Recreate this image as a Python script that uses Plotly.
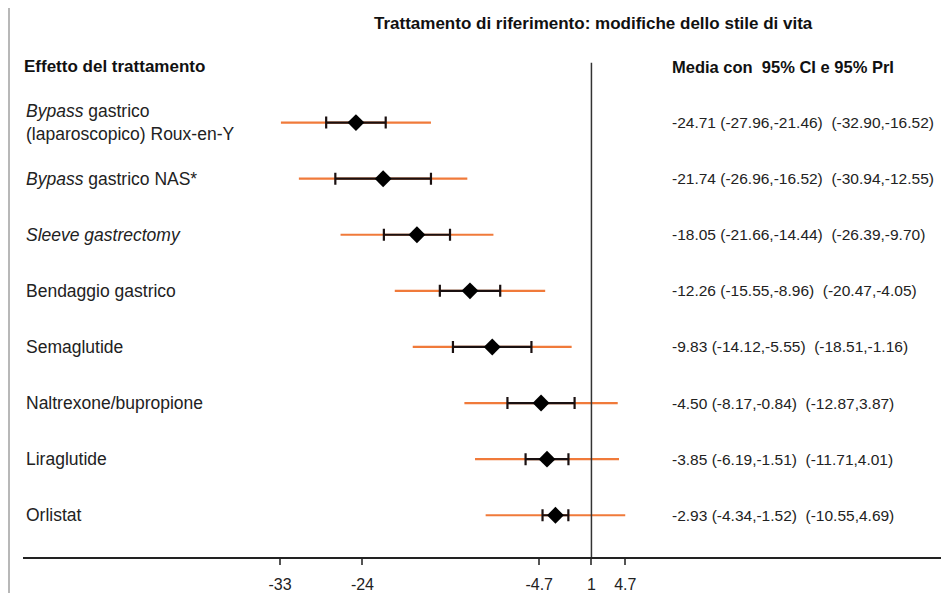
import plotly.graph_objects as go

# ---- data ----
treatments = [
    "<i>Bypass</i> gastrico<br>(laparoscopico) Roux-en-Y",
    "<i>Bypass</i> gastrico NAS*",
    "<i>Sleeve gastrectomy</i>",
    "Bendaggio gastrico",
    "Semaglutide",
    "Naltrexone/bupropione",
    "Liraglutide",
    "Orlistat",
]
mean = [-24.71, -21.74, -18.05, -12.26, -9.83, -4.50, -3.85, -2.93]
ci_lo = [-27.96, -26.96, -21.66, -15.55, -14.12, -8.17, -6.19, -4.34]
ci_hi = [-21.46, -16.52, -14.44, -8.96, -5.55, -0.84, -1.51, -1.52]
pi_lo = [-32.90, -30.94, -26.39, -20.47, -18.51, -12.87, -11.71, -10.55]
pi_hi = [-16.52, -12.55, -9.70, -4.05, -1.16, 3.87, 4.01, 4.69]
tick_vals = [-33, -24, -4.7, 1, 4.7]
tick_text = ["-33", "-24", "-4.7", "1", "4.7"]
ref_value = 1

rows = list(range(len(treatments)))

# page body has an 8px margin, so the figure is offset by 8px
OFF = 8
W, H = 949 - OFF, 593 - OFF
ML = 23 - OFF
MR = 949 - 947
MT = 0
MB = H - (559 - OFF)
PW = W - ML - MR
PH = H - MT - MB

def px(ref_x):
    return (ref_x - OFF - ML) / PW

def py(ref_y):
    return 1 - (ref_y - OFF - MT) / PH

FONT = "Liberation Sans, Arial, sans-serif"
ORANGE = "#f07a3a"

fig = go.Figure()

# prediction intervals (orange)
fig.add_trace(go.Scatter(
    x=mean, y=rows, mode="markers",
    marker=dict(size=1, color="rgba(0,0,0,0)"),
    error_x=dict(type="data", symmetric=False,
                 array=[h - m for h, m in zip(pi_hi, mean)],
                 arrayminus=[m - l for m, l in zip(mean, pi_lo)],
                 color=ORANGE, thickness=2.2, width=0),
    hoverinfo="skip", showlegend=False,
))
# confidence intervals (black) + mean diamonds
fig.add_trace(go.Scatter(
    x=mean, y=rows, mode="markers",
    marker=dict(symbol="diamond", size=13, color="black"),
    error_x=dict(type="data", symmetric=False,
                 array=[h - m for h, m in zip(ci_hi, mean)],
                 arrayminus=[m - l for m, l in zip(mean, ci_lo)],
                 color="#1a1010", thickness=2.2, width=6),
    showlegend=False,
))

annotations = []
for i, (lab, m, cl, ch, pl, ph) in enumerate(zip(treatments, mean, ci_lo, ci_hi, pi_lo, pi_hi)):
    annotations.append(dict(
        x=px(24), xref="paper", y=i, yref="y", text=lab, showarrow=False,
        xanchor="left", yanchor="middle", align="left",
        font=dict(family=FONT, size=17.5, color="#222"),
    ))
    annotations.append(dict(
        x=px(670), xref="paper", y=i, yref="y",
        text=f"{m:.2f} ({cl:.2f},{ch:.2f})  ({pl:.2f},{ph:.2f})",
        showarrow=False, xanchor="left", yanchor="middle",
        font=dict(family=FONT, size=15.5, color="#222"),
    ))

annotations += [
    dict(x=px(593), xref="paper", y=py(24), yref="paper",
         text="<b>Trattamento di riferimento: modifiche dello stile di vita</b>",
         showarrow=False, xanchor="center", yanchor="middle",
         font=dict(family=FONT, size=17, color="#111")),
    dict(x=px(22), xref="paper", y=py(67), yref="paper",
         text="<b>Effetto del trattamento</b>", showarrow=False,
         xanchor="left", yanchor="middle",
         font=dict(family=FONT, size=17, color="#111")),
    dict(x=px(670), xref="paper", y=py(67), yref="paper",
         text="<b>Media con  95% CI e 95% PrI</b>", showarrow=False,
         xanchor="left", yanchor="middle",
         font=dict(family=FONT, size=16.5, color="#111")),
]

shapes = [
    # reference vertical line
    dict(type="line", xref="x", yref="paper", x0=ref_value, x1=ref_value,
         y0=0, y1=py(63), line=dict(color="#333", width=1.5)),
    # left grey border
    dict(type="line", xref="paper", yref="paper", x0=px(9), x1=px(9),
         y0=py(601), y1=py(0), line=dict(color="#b8b8b8", width=2)),
]

# x scale (reference pixels): -33 at px 280, 9.16 px per unit
x0 = -33 + (23 - 280) / 9.16
x1 = -33 + (947 - 280) / 9.16
# y scale (reference pixels): row 0 at px 123, 56.3 px per row
y_top = (OFF - 123) / 56.3
y_bot = (559 - 123) / 56.3

fig.update_layout(
    width=W, height=H,
    margin=dict(l=ML, r=MR, t=MT, b=MB),
    plot_bgcolor="white", paper_bgcolor="white",
    xaxis=dict(range=[x0, x1], tickvals=tick_vals, ticktext=tick_text,
               showgrid=False, zeroline=False, showline=True,
               linecolor="#222", linewidth=1.5, ticks="outside",
               ticklen=6, tickwidth=1.5, tickcolor="#555",
               ticklabelstandoff=6,
               tickfont=dict(family=FONT, size=16, color="#222")),
    yaxis=dict(range=[y_bot, y_top], showgrid=False, zeroline=False,
               showticklabels=False, showline=False),
    annotations=annotations,
    shapes=shapes,
)

fig.write_html("out.html")
